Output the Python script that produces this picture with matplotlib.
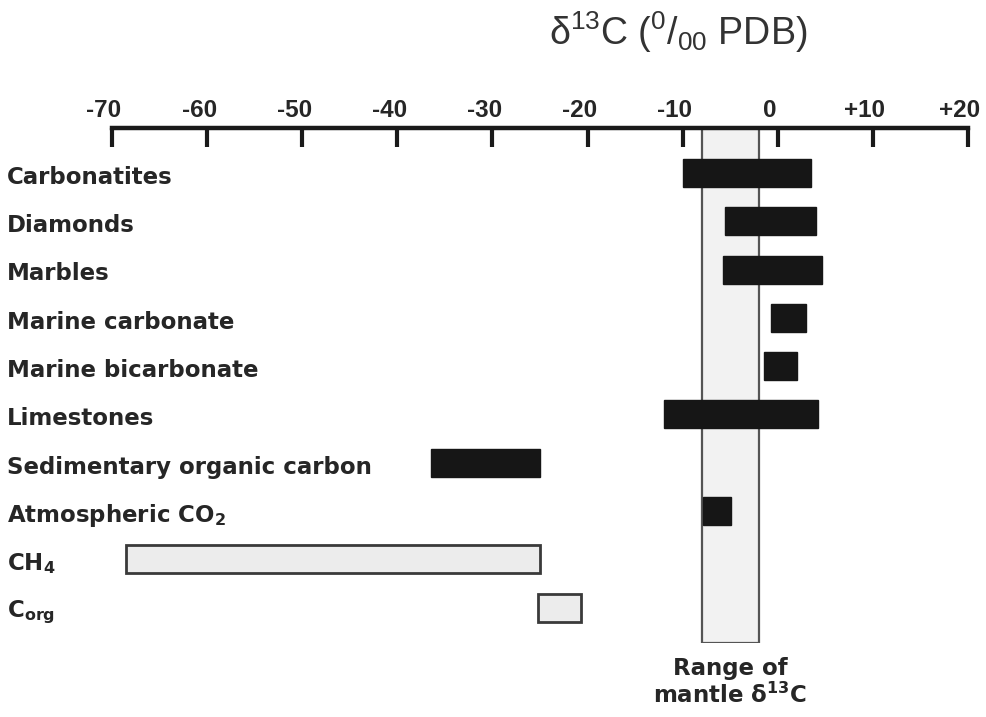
import matplotlib
matplotlib.use("Agg")
import matplotlib.pyplot as plt
import matplotlib.transforms as mtransforms

plt.rcParams.update({
    "font.family": ["DejaVu Sans"],
    "mathtext.fontset": "custom",
    "mathtext.rm": "Liberation Sans",
    "mathtext.bf": "DejaVu Sans:bold",
    "mathtext.it": "Liberation Sans:italic",
    "mathtext.default": "regular",
})

# ---- data ----
categories = ["Carbonatites", "Diamonds", "Marbles", "Marine carbonate",
              "Marine bicarbonate", "Limestones", "Sedimentary organic carbon",
              r"Atmospheric CO$_\mathbf{2}$", r"CH$_\mathbf{4}$", r"C$_\mathbf{org}$"]
range_low = [-10, -5.5, -5.8, -0.7, -1.5, -12, -36.5, -7.9, -68.5, -25.2]
range_high = [3.5, 4.0, 4.7, 3.0, 2.0, 4.2, -25.0, -4.9, -25.0, -20.7]
bar_style = ["dark", "dark", "dark", "dark", "dark", "dark", "dark", "dark", "light", "light"]
mantle_range = (-8, -2)
tick_values = [-70, -60, -50, -40, -30, -20, -10, 0, 10, 20]
tick_labels = ["-70", "-60", "-50", "-40", "-30", "-20", "-10", "0", "+10", "+20"]

W, H = 987, 717
fig = plt.figure(figsize=(W / 100, H / 100), dpi=100)
ax = fig.add_axes([112 / W, 1 - 643 / H, (968 - 112) / W, (643 - 128) / H])
ax.set_xlim(-70, 20)
ax.set_ylim(9.73, -0.93)

# mantle range box
ax.axvspan(mantle_range[0], mantle_range[1], ymin=0, ymax=1,
           facecolor="#f2f2f2", edgecolor="#555555", linewidth=1.6, zorder=1)

# bars
for i, (lo, hi, st) in enumerate(zip(range_low, range_high, bar_style)):
    if st == "dark":
        fc, ec, lw = "#161616", "#161616", 1.0
    else:
        fc, ec, lw = "#ececec", "#3a3a3a", 2.0
    ax.barh(i, hi - lo, left=lo, height=0.58, color=fc, edgecolor=ec,
            linewidth=lw, zorder=3)

# axes styling
for s in ["left", "right", "bottom"]:
    ax.spines[s].set_visible(False)
ax.spines["top"].set_linewidth(3.2)
ax.spines["top"].set_color("#1a1a1a")
ax.spines["top"].set_zorder(5)
ax.xaxis.set_ticks_position("top")
ax.set_xticks(tick_values)
ax.set_xticklabels(tick_labels, fontweight="bold", fontsize=17.5, color="#262626",
                   family=["Liberation Sans", "DejaVu Sans"])
ax.tick_params(axis="x", direction="in", length=14, width=3.0, color="#1a1a1a",
               pad=4, top=True, bottom=False)
ax.set_yticks([])
shift = mtransforms.ScaledTranslation(-8 / 100, 0, fig.dpi_scale_trans)
for lbl in ax.get_xticklabels():
    lbl.set_transform(lbl.get_transform() + shift)

# row labels
trans = mtransforms.blended_transform_factory(fig.transFigure, ax.transData)
for i, lab in enumerate(categories):
    ax.text(7 / W, i + 0.09, lab, transform=trans, ha="left", va="center",
            fontsize=16.5, fontweight="bold", color="#262626")

# title
fig.text(678 / W, 1 - 45 / H, r"δ$^{13}$C ($^{0}$/$_{00}$ PDB)", ha="center",
         va="baseline", fontsize=27, color="#333333",
         family=["Liberation Sans", "DejaVu Sans"])

# mantle caption
cx = (mantle_range[0] + mantle_range[1]) / 2
trans2 = mtransforms.blended_transform_factory(ax.transData, fig.transFigure)
ax.text(cx, 1 - 668 / H, "Range of", transform=trans2, ha="center", va="center",
        fontsize=16.5, fontweight="bold", color="#262626")
ax.text(cx, 1 - 695 / H, r"mantle δ$^\mathbf{13}$C", transform=trans2, ha="center",
        va="center", fontsize=16.5, fontweight="bold", color="#262626")

fig.savefig("out.png", dpi=100)
